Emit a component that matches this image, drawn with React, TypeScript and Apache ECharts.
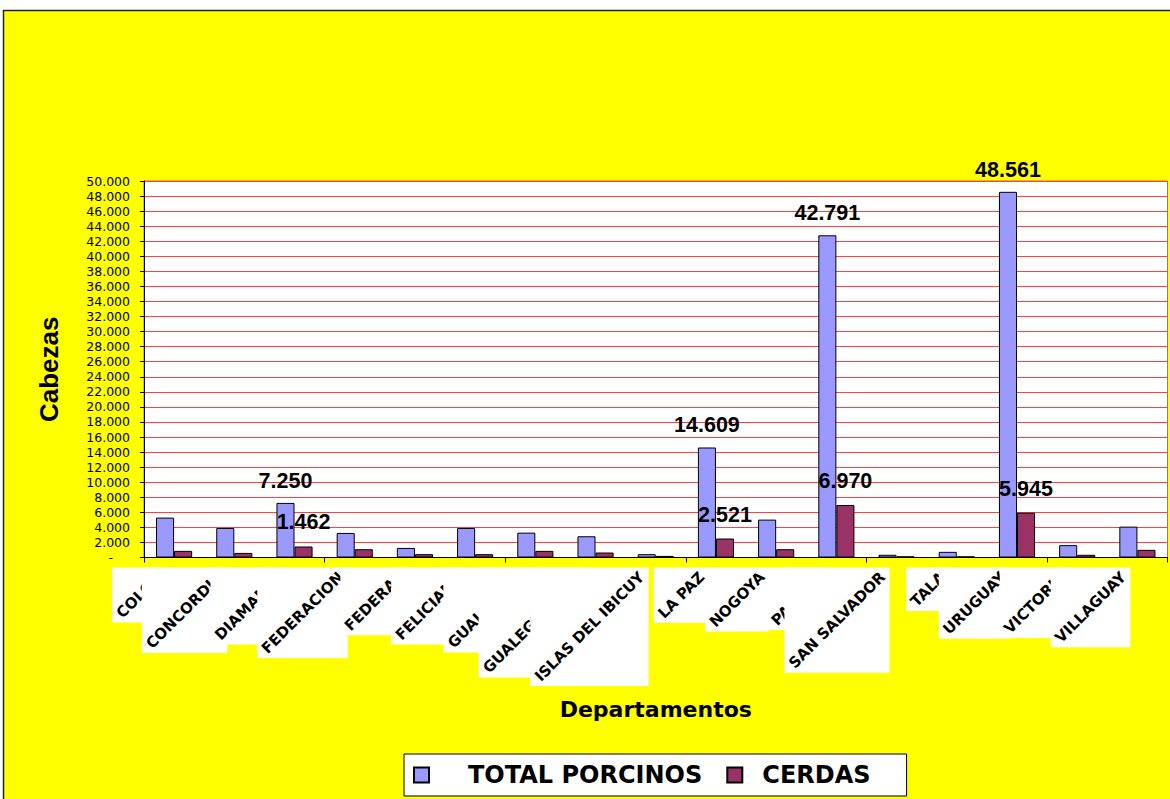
import React, { useEffect, useRef } from "react";
import * as echarts from "echarts";

const categories = [
  "COLON", "CONCORDIA", "DIAMANTE", "FEDERACION", "FEDERAL", "FELICIANO",
  "GUALEGUAY", "GUALEGUAYCHU", "ISLAS DEL IBICUY", "LA PAZ", "NOGOYA",
  "PARANA", "SAN SALVADOR", "TALA", "URUGUAY", "VICTORIA", "VILLAGUAY",
];
const totalPorcinos = [5300, 3920, 7250, 3260, 1270, 3920, 3300, 2820, 440, 14609, 5030, 42791, 360, 750, 48561, 1640, 4100];
const cerdas = [880, 610, 1462, 1100, 440, 440, 880, 660, 210, 2521, 1100, 6970, 150, 150, 5945, 360, 1020];
const labeledIndices = [2, 9, 11, 14];
const seriesNames = ["TOTAL PORCINOS", "CERDAS"];
const yMin = 0;
const yMax = 50000;
const yInterval = 2000;

const LABEL_FONT = 'bold 15px "DejaVu Sans"';
let measureCtx: CanvasRenderingContext2D | null = null;
function measure(text: string, font: string): number {
  if (!measureCtx) measureCtx = document.createElement("canvas").getContext("2d");
  if (!measureCtx) return text.length * 9;
  measureCtx.font = font;
  return measureCtx.measureText(text).width;
}

function fmt(v: number): string {
  return String(Math.round(v)).replace(/\B(?=(\d{3})+(?!\d))/g, ".");
}

function makeData(values: number[]) {
  return values.map((v, i) =>
    labeledIndices.includes(i) ? { value: v, label: { show: true } } : { value: v }
  );
}

export default function App() {
  const ref = useRef<HTMLDivElement>(null);
  useEffect(() => {
    if (!ref.current) return;
    const chart = echarts.init(ref.current, null, { renderer: "svg" });
    const valueLabel = {
      show: false,
      position: "top",
      color: "#000",
      fontFamily: '"Liberation Sans", Arial',
      fontWeight: "bold",
      fontSize: 21.5,
      formatter: (p: any) => fmt(p.value),
    };
    chart.setOption({
      animation: false,
      backgroundColor: "#ffffff",
      graphic: [
        {
          type: "rect",
          z: -100,
          shape: { x: 3.5, y: 10.5, width: 1200, height: 900 },
          style: { fill: "#ffff00", stroke: "#222", lineWidth: 1.5 },
        },
      ],
      legend: {
        data: seriesNames,
        left: 404,
        top: 754,
        orient: "horizontal",
        backgroundColor: "#ffffff",
        borderColor: "#000",
        borderWidth: 1,
        padding: [9, 36, 9, 9],
        itemWidth: 15,
        itemHeight: 15,
        itemGap: 24,
        icon: "rect",
        textStyle: {
          color: "#000",
          fontFamily: '"DejaVu Sans"',
          fontWeight: "bold",
          fontSize: 24,
          rich: {
            a: { padding: [0, 0, 0, 34], fontFamily: '"DejaVu Sans"', fontWeight: "bold", fontSize: 24, color: "#000" },
            b: { padding: [0, 0, 0, 15], fontFamily: '"DejaVu Sans"', fontWeight: "bold", fontSize: 24, color: "#000" },
          },
        },
        formatter: (name: string) => (name === seriesNames[0] ? `{a|${name}}` : `{b|${name}}`),
      },
      grid: {
        left: 144,
        top: 181,
        right: 2.5,
        bottom: 241.5,
        show: true,
        backgroundColor: "#ffffff",
        borderColor: "#808080",
        borderWidth: 1,
      },
      xAxis: {
        type: "category",
        data: categories,
        name: "Departamentos",
        nameLocation: "middle",
        nameGap: 141,
        nameTextStyle: { color: "#000", fontFamily: '"DejaVu Sans"', fontWeight: "bold", fontSize: 22 },
        axisLine: { lineStyle: { color: "#000", width: 1 } },
        axisTick: { show: true, length: 5, lineStyle: { color: "#000" } },
        axisLabel: { show: false },
        splitLine: { show: false },
      },
      yAxis: {
        type: "value",
        min: yMin,
        max: yMax,
        interval: yInterval,
        name: "Cabezas",
        nameLocation: "middle",
        nameGap: 82,
        nameTextStyle: { color: "#000", fontFamily: '"Liberation Sans", Arial', fontWeight: "bold", fontSize: 26 },
        axisLine: { show: true, lineStyle: { color: "#000", width: 1 } },
        axisTick: { show: true, length: 4, lineStyle: { color: "#000" } },
        axisLabel: {
          color: "#000",
          fontFamily: '"DejaVu Sans"',
          fontSize: 12.5,
          margin: 14,
          formatter: (v: number) => (v === 0 ? "{d|-}" : fmt(v)),
          rich: { d: { padding: [0, 17, 0, 0], fontFamily: '"DejaVu Sans"', fontSize: 12.5, color: "#000" } },
        },
        splitLine: { show: true, lineStyle: { color: "#ff4040", width: 1 } },
      },
      series: [
        {
          name: seriesNames[0],
          type: "bar",
          data: makeData(totalPorcinos),
          barGap: "0%",
          barCategoryGap: "40%",
          itemStyle: { color: "#9999ff", borderColor: "#000", borderWidth: 1 },
          label: { ...valueLabel, distance: 11 },
        },
        {
          name: seriesNames[1],
          type: "bar",
          data: makeData(cerdas),
          barGap: "0%",
          barCategoryGap: "40%",
          itemStyle: { color: "#993366", borderColor: "#000", borderWidth: 1 },
          label: { ...valueLabel, distance: 13 },
        },
        {
          name: "axisLabels",
          type: "custom",
          silent: true,
          clip: false,
          z: 10,
          data: categories.map((_, i) => [i, 0]),
          renderItem: (_params: any, api: any) => {
            const i = api.value(0);
            const p = api.coord([i, 0]);
            const name = categories[i];
            const L = measure(name, LABEL_FONT);
            const h = 14;
            const c = Math.SQRT1_2;
            const px = p[0] - 14;
            const py = p[1] + 17;
            const pad = 2;
            const x0 = px - L * c - (h / 2) * c - pad;
            const x1 = px + (h / 2) * c + pad;
            const y0 = py - (h / 2) * c - pad;
            const y1 = py + L * c + (h / 2) * c + pad;
            return {
              type: "group",
              children: [
                { type: "rect", shape: { x: x0, y: y0, width: x1 - x0, height: y1 - y0 }, style: { fill: "#ffffff" } },
                {
                  type: "text",
                  x: px,
                  y: py,
                  rotation: Math.PI / 4,
                  style: { text: name, font: LABEL_FONT, fill: "#000", align: "right", verticalAlign: "middle" },
                },
              ],
            };
          },
        },
      ],
    });
    return () => chart.dispose();
  }, []);
  return <div ref={ref} style={{ position: "absolute", left: 0, top: 0, width: 1170, height: 799 }} />;
}
